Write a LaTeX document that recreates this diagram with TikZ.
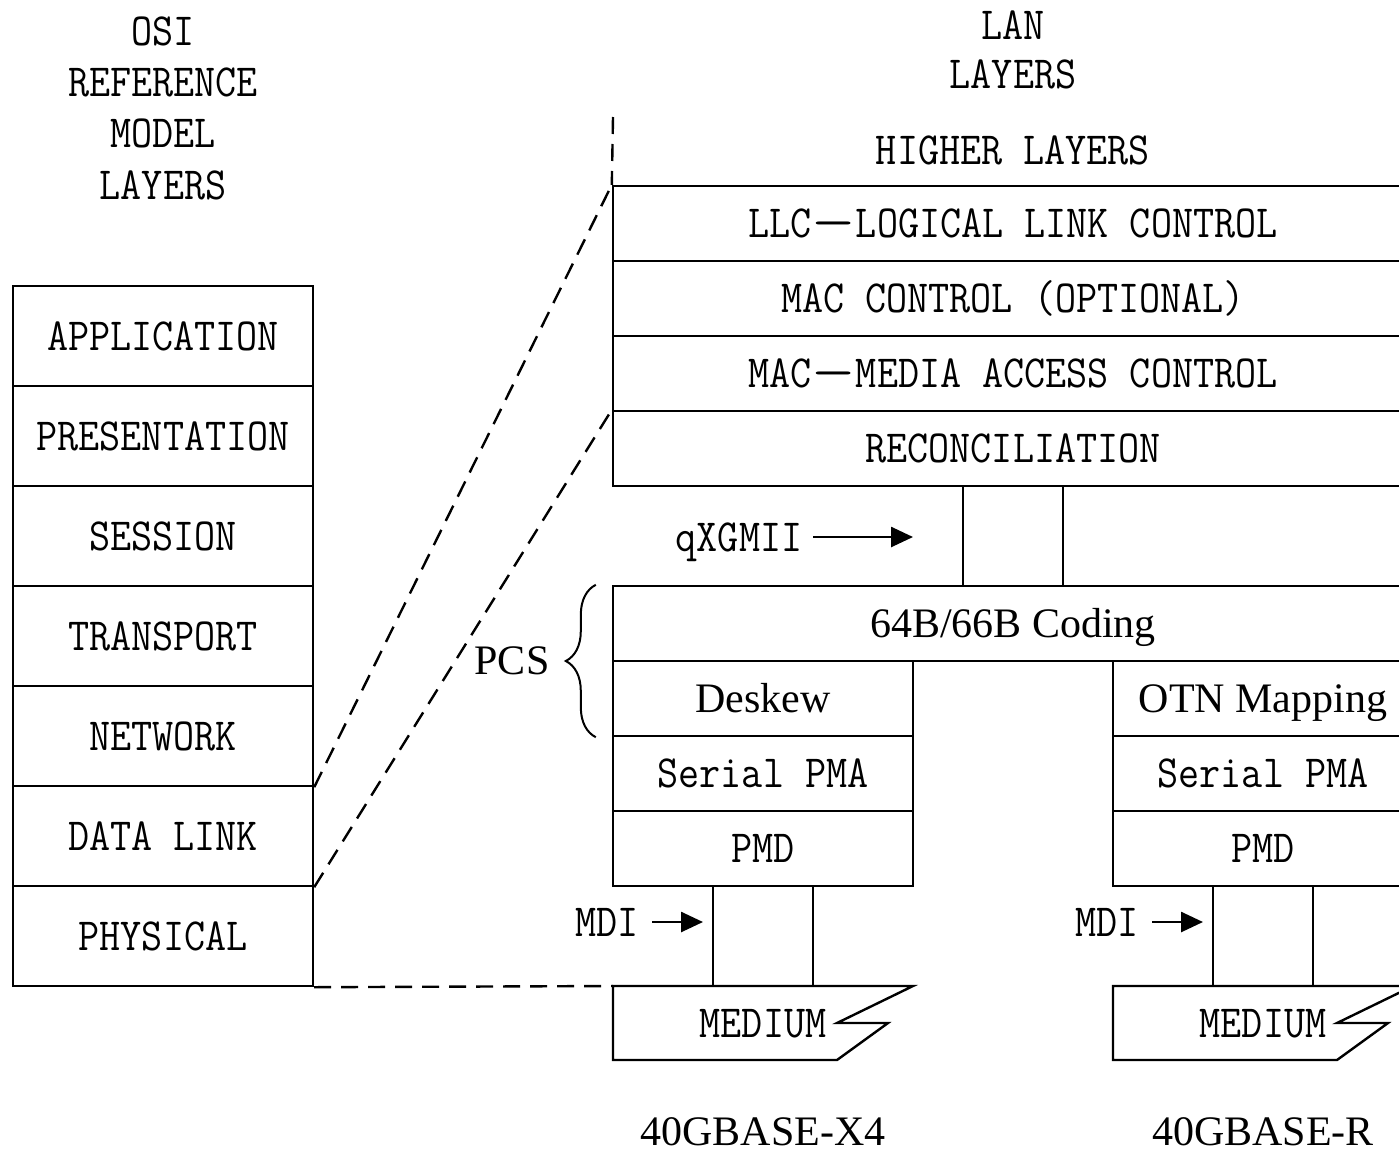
\documentclass[tikz,border=0pt]{standalone}
\usepackage{fontspec}
\setmainfont{Liberation Serif}
\usetikzlibrary{arrows.meta,decorations.pathreplacing,calc}
\newcommand{\mt}[1]{\scalebox{0.89}[1]{#1}}
\newcommand{\wdash}{\scalebox{2.1}[1]{—}}
\tikzset{
  lw/.style={line width=2.4pt},
  mono/.style={font=\fontsize{46}{52}\selectfont\ttfamily, inner sep=0pt, text height=28pt, text depth=0pt},
  serif/.style={font=\fontsize{42}{48}\selectfont, inner sep=0pt, text height=28pt, text depth=0pt},
  osibox/.style={mono, draw, lw, minimum width=300pt, minimum height=100pt},
  lanbox/.style={mono, draw, lw, minimum width=800pt, minimum height=75pt},
  colbox/.style={mono, draw, lw, minimum width=300pt, minimum height=75pt},
  dsh/.style={lw, dash pattern=on 17pt off 10pt},
  arr/.style={line width=2.6pt, -{Triangle[length=22pt,width=20pt]}},
}
\begin{document}
\begin{tikzpicture}[x=1pt,y=-1pt]
\useasboundingbox (0,0) rectangle (1399,1154);
\clip (0,0) rectangle (1399,1154);
% OSI titles
\node[mono] (t1) at (163,31) {\mt{OSI}};
\node[mono] (t2) at (163,82) {\mt{REFERENCE}};
\node[mono] (t3) at (163,133) {\mt{MODEL}};
\node[mono] (t4) at (163,185) {\mt{LAYERS}};
% OSI stack
\node[osibox] (app) at (163,336) {\mt{APPLICATION}};
\node[osibox] (pre) at (163,436) {\mt{PRESENTATION}};
\node[osibox] (ses) at (163,536) {\mt{SESSION}};
\node[osibox] (tra) at (163,636) {\mt{TRANSPORT}};
\node[osibox] (net) at (163,736) {\mt{NETWORK}};
\node[osibox] (dl)  at (163,836) {\mt{DATA LINK}};
\node[osibox] (phy) at (163,936) {\mt{PHYSICAL}};
% LAN titles
\node[mono] (l1) at (1013,25) {\mt{LAN}};
\node[mono] (l2) at (1013,74) {\mt{LAYERS}};
\node[mono] (hl) at (1013,150) {\mt{HIGHER LAYERS}};
% LAN stack
\node[lanbox] (llc) at (1013,223.5) {\mt{LLC\wdash LOGICAL LINK CONTROL}};
\node[lanbox] (macc) at (1013,298.5) {\mt{MAC CONTROL (OPTIONAL)}};
\node[lanbox] (mac) at (1013,373.5) {\mt{MAC\wdash MEDIA ACCESS CONTROL}};
\node[lanbox] (rec) at (1013,448.5) {\mt{RECONCILIATION}};
\node[lanbox, serif] (cod) at (1013,623.5) {64B/66B Coding};
% columns
\node[colbox, serif] (dsk) at (763,698.5) {Deskew};
\node[colbox] (spma1) at (763,773.5) {\mt{Serial PMA}};
\node[colbox] (pmd1) at (763,848.5) {\mt{PMD}};
\node[colbox, serif] (otn) at (1263,698.5) {OTN Mapping};
\node[colbox] (spma2) at (1263,773.5) {\mt{Serial PMA}};
\node[colbox] (pmd2) at (1263,848.5) {\mt{PMD}};
% qXGMII connection
\draw[lw] ([xshift=-50pt]rec.south) -- ([xshift=-50pt]cod.north);
\draw[lw] ([xshift=50pt]rec.south) -- ([xshift=50pt]cod.north);
\node[mono] (qx) at (739,537) {\mt{qXGMII}};
\coordinate (qxa) at (813,537);
\coordinate (qxb) at (913,537);
\draw[arr] (qxa) -- (qxb);
% PCS brace
\node[serif] (pcs) at (512,660) {PCS};
\draw[line width=2pt, decorate, decoration={brace, amplitude=30pt}] ([xshift=-16pt]dsk.south west) -- ([xshift=-16pt]cod.north west);
% media
\coordinate (m1) at (613,986);
\coordinate (m2) at (1113,986);
\draw[lw] (m1) -- ++(300,0) -- ++(-76,37) -- ++(51,0) -- ++(-51,37) -- ++(-224,0) -- cycle;
\draw[lw] (m2) -- ++(300,0) -- ++(-76,37) -- ++(51,0) -- ++(-51,37) -- ++(-224,0) -- cycle;
\node[mono] (med1) at (763,1023) {\mt{MEDIUM}};
\node[mono] (med2) at (1263,1023) {\mt{MEDIUM}};
\draw[lw] ([xshift=-50pt]pmd1.south) -- ([xshift=100pt]m1);
\draw[lw] ([xshift=50pt]pmd1.south) -- ([xshift=200pt]m1);
\draw[lw] ([xshift=-50pt]pmd2.south) -- ([xshift=100pt]m2);
\draw[lw] ([xshift=50pt]pmd2.south) -- ([xshift=200pt]m2);
% MDI
\node[mono] (mdi1) at (607,922) {\mt{MDI}};
\node[mono] (mdi2) at (1107,922) {\mt{MDI}};
\draw[arr] (652,922) -- (703,922);
\draw[arr] (1152,922) -- (1203,922);
% bottom labels
\node[serif] (x4) at (763,1131) {40GBASE-X4};
\node[serif] (r) at (1263,1131) {40GBASE-R};
% dashed lines
\coordinate (vt) at (613,117);
\draw[dsh] (vt) -- (llc.north west);
\draw[dsh] (net.south east) -- (llc.north west);
\draw[dsh] (dl.south east) -- (rec.north west);
\draw[dsh] (phy.south east) -- (m1);
\end{tikzpicture}
\end{document}
